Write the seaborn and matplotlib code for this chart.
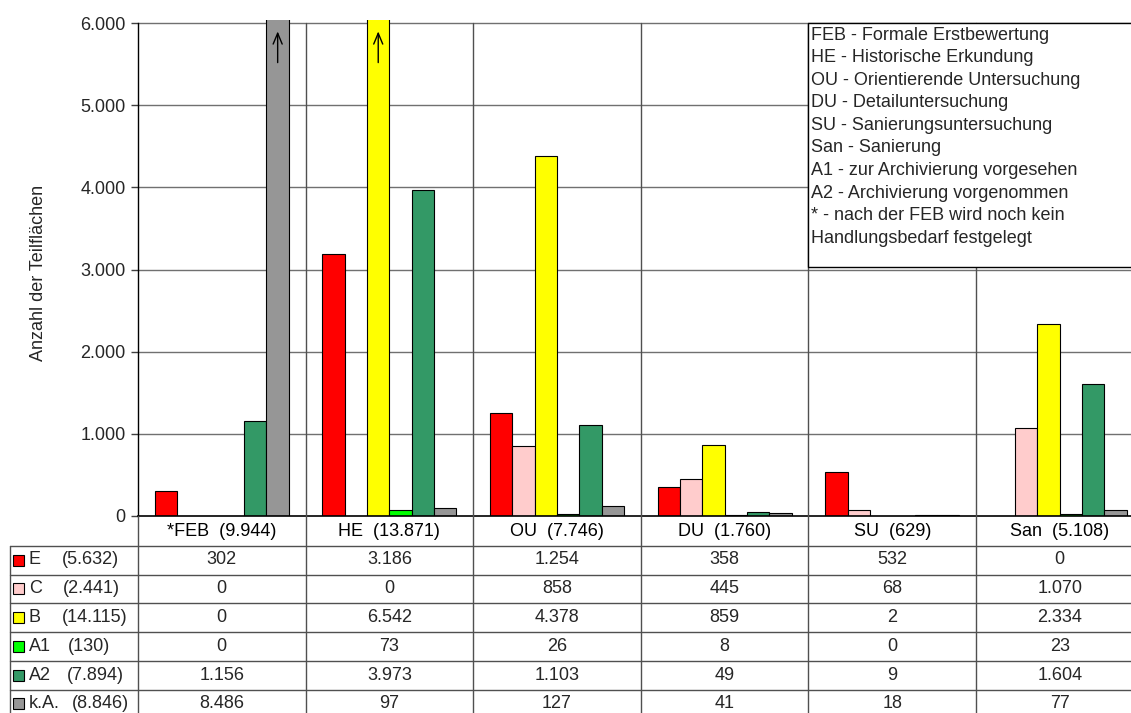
import matplotlib
matplotlib.use("Agg")
import matplotlib.pyplot as plt
import numpy as np
import pandas as pd
import seaborn as sns
from matplotlib.lines import Line2D
from matplotlib.patches import Rectangle
from matplotlib.ticker import FuncFormatter

# --- data -------------------------------------------------------------
stages = ["*FEB", "HE", "OU", "DU", "SU", "San"]
classes = ["E", "C", "B", "A1", "A2", "k.A."]
counts_E = [302, 3186, 1254, 358, 532, 0]
counts_C = [0, 0, 858, 445, 68, 1070]
counts_B = [0, 6542, 4378, 859, 2, 2334]
counts_A1 = [0, 73, 26, 8, 0, 23]
counts_A2 = [1156, 3973, 1103, 49, 9, 1604]
counts_kA = [8486, 97, 127, 41, 18, 77]
class_colors = ["#FF0000", "#FFCCCC", "#FFFF00", "#00FF00", "#339966", "#969696"]
y_ticks = [0, 1000, 2000, 3000, 4000, 5000, 6000]
glossary = [
    "FEB - Formale Erstbewertung",
    "HE - Historische Erkundung",
    "OU - Orientierende Untersuchung",
    "DU - Detailuntersuchung",
    "SU - Sanierungsuntersuchung",
    "San - Sanierung",
    "A1 - zur Archivierung vorgesehen",
    "A2 - Archivierung vorgenommen",
    "* - nach der FEB wird noch kein",
    "Handlungsbedarf festgelegt",
]

series = [counts_E, counts_C, counts_B, counts_A1, counts_A2, counts_kA]
df = pd.DataFrame(
    [(s, c, v) for c, vals in zip(classes, series) for s, v in zip(stages, vals)],
    columns=["stage", "class", "count"],
)


def de(n):
    return f"{n:,}".replace(",", ".")


stage_totals = df.groupby("stage", sort=False)["count"].sum()
class_totals = df.groupby("class", sort=False)["count"].sum()

# --- figure -----------------------------------------------------------
FS = 13
sns.set_theme(style="white")
plt.rcParams["font.family"] = ["Liberation Sans", "DejaVu Sans"]
plt.rcParams["font.size"] = FS

W, H = 1131, 713
fig = plt.figure(figsize=(W / 100, H / 100), dpi=100)


def fx(px):
    return px / W


def fy(py):
    return 1 - py / H


y_top = 6040
px_per_unit = (516 - 23) / 6000
ax_top_px = 516 - y_top * px_per_unit
cat_w = 167.6
ax = fig.add_axes([fx(138), fy(516), (6 * cat_w) / W, (516 - ax_top_px) / H])

sns.barplot(
    data=df, x="stage", y="count", hue="class",
    order=stages, hue_order=classes, palette=class_colors,
    saturation=1, edgecolor="black", linewidth=0.8,
    errorbar=None, legend=False, ax=ax, zorder=2,
)
ax.set_xlim(-0.5, 5.5)
ax.set_ylim(0, y_top)
ax.set_yticks(y_ticks)
ax.yaxis.set_major_formatter(FuncFormatter(lambda v, p: de(int(v))))
ax.set_xlabel("")
ax.set_ylabel("Anzahl der Teilflächen", fontsize=FS)
ax.yaxis.set_label_coords((47 - 138) / (6 * cat_w), (516 - 273) / (516 - ax_top_px))

ax.set_xticks(range(len(stages)))
ax.set_xticklabels([f"{s}  ({de(int(stage_totals[s]))})" for s in stages])
ax.tick_params(axis="x", length=0, pad=5, labelsize=FS, colors="black")
ax.tick_params(axis="y", direction="out", length=5, width=1, color="#404040",
               pad=4, labelsize=FS, left=True)

for side in ("top", "right"):
    ax.spines[side].set_visible(False)
ax.spines["left"].set_bounds(0, 6000)
ax.spines["left"].set_color("black")
ax.spines["bottom"].set_color("black")
ax.spines["left"].set_linewidth(1)
ax.spines["bottom"].set_linewidth(1.2)

for t in y_ticks[1:]:
    ax.axhline(t, color="#707070", lw=1, zorder=0)

# arrows on bars that run past the top of the scale
for bar in ax.patches:
    if bar.get_height() > 6000:
        cx = bar.get_x() + bar.get_width() / 2
        ax.annotate(
            "", xy=(cx, 0.982), xytext=(cx, 0.908),
            xycoords=ax.get_xaxis_transform(), textcoords=ax.get_xaxis_transform(),
            arrowprops=dict(arrowstyle="->,head_length=0.6,head_width=0.25",
                            color="black", lw=1),
            zorder=5,
        )

fig.canvas.draw()
to_fig = fig.transFigure.inverted()


def data_x_to_px(x):
    disp = ax.transData.transform((x, 0))
    return to_fig.transform(disp)[0] * W


# vertical separators through plot and table
line_col = "#505050"
for k in range(6):
    xp = data_x_to_px(k - 0.5)
    top = 23 if k > 0 else 516
    fig.add_artist(Line2D([fx(xp), fx(xp)], [fy(top), fy(H + 2)],
                          color=line_col, lw=1, zorder=1))

# data table
row_edges = [545.5, 574.5, 603, 632, 661, 689.5, 718]
for ye in row_edges[:-1]:
    fig.add_artist(Line2D([fx(9.5), fx(W)], [fy(ye), fy(ye)], color=line_col, lw=1))
fig.add_artist(Line2D([fx(9.5), fx(9.5)], [fy(545.5), fy(H + 2)], color=line_col, lw=1))

paren_x = [62, 63, 62, 68, 67, 72]
for i, (cls, vals, col) in enumerate(zip(classes, series, class_colors)):
    yc = (row_edges[i] + row_edges[i + 1]) / 2
    fig.add_artist(Rectangle((fx(13), fy(yc + 5.5)), 11 / W, 11 / H,
                             transform=fig.transFigure, facecolor=col,
                             edgecolor="black", lw=0.8))
    fig.text(fx(29), fy(yc), cls, ha="left", va="center", fontsize=FS)
    fig.text(fx(paren_x[i]), fy(yc), f"({de(int(class_totals[cls]))})",
             ha="left", va="center", fontsize=FS)
    for k, v in enumerate(vals):
        fig.text(fx(data_x_to_px(k)), fy(yc), de(v), ha="center", va="center",
                 fontsize=FS)

# glossary box
fig.add_artist(Rectangle((fx(808), fy(267)), (W + 20 - 808) / W, (267 - 23) / H,
                         transform=fig.transFigure, facecolor="white",
                         edgecolor="black", lw=1, zorder=6))
for j, line in enumerate(glossary):
    fig.text(fx(811), fy(35 + j * 22.6), line, ha="left", va="center",
             fontsize=FS, zorder=7)

fig.savefig("out.png", dpi=100)
